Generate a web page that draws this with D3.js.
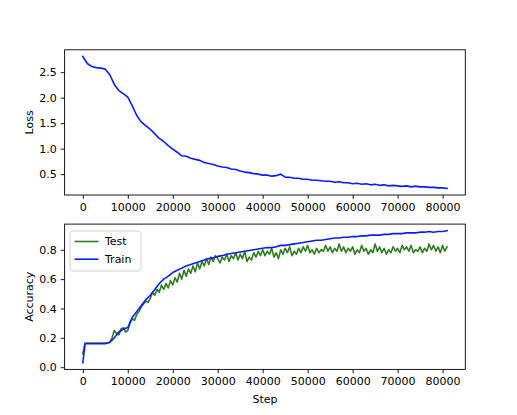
<!DOCTYPE html>
<html>
<head>
<meta charset="utf-8">
<script src="https://cdn.jsdelivr.net/npm/d3@7"></script>
<style>
  body { margin: 0; background: #fff; }
  svg { font-family: "DejaVu Sans", sans-serif; }
</style>
</head>
<body>
<div id="chart"></div>
<script>
// training steps for loss and train accuracy
const steps = [0, 500, 1000, 2000, 3000, 4000, 5000, 6000, 7000, 8000, 9000,
  10000, 11000, 12000, 13000, 14000, 15000, 16000, 17000, 18000, 19000,
  20000, 21000, 22000, 23000, 24000, 25000, 26000, 27000, 28000, 29000,
  30000, 31000, 32000, 33000, 34000, 35000, 36000, 37000, 38000, 39000,
  40000, 41000, 42000, 43000, 44000, 45000, 46000, 47000, 48000, 49000,
  50000, 51000, 52000, 53000, 54000, 55000, 56000, 57000, 58000, 59000,
  60000, 61000, 62000, 63000, 64000, 65000, 66000, 67000, 68000, 69000,
  70000, 71000, 72000, 73000, 74000, 75000, 76000, 77000, 78000, 79000,
  80000, 81000];

const loss = [2.81, 2.74, 2.67, 2.61, 2.59, 2.58, 2.56, 2.45, 2.26, 2.14, 2.08,
  2.01, 1.84, 1.65, 1.52, 1.45, 1.38, 1.29, 1.20, 1.14, 1.06,
  0.99, 0.93, 0.86, 0.85, 0.81, 0.79, 0.77, 0.73, 0.71, 0.69,
  0.66, 0.64, 0.63, 0.60, 0.59, 0.56, 0.54, 0.53, 0.51, 0.50,
  0.48, 0.48, 0.46, 0.47, 0.50, 0.44, 0.44, 0.42, 0.42, 0.40,
  0.40, 0.38, 0.38, 0.37, 0.36, 0.36, 0.34, 0.35, 0.33, 0.33,
  0.31, 0.32, 0.30, 0.31, 0.29, 0.30, 0.28, 0.29, 0.27, 0.28,
  0.27, 0.26, 0.27, 0.25, 0.265, 0.25, 0.25, 0.24, 0.24, 0.23,
  0.23, 0.22];

const trainAcc = [0.03, 0.16, 0.16, 0.16, 0.16, 0.16, 0.16, 0.17, 0.20, 0.24, 0.26,
  0.27, 0.34, 0.38, 0.42, 0.46, 0.49, 0.53, 0.57, 0.60, 0.62,
  0.645, 0.66, 0.675, 0.69, 0.70, 0.71, 0.72, 0.73, 0.74, 0.745,
  0.755, 0.76, 0.77, 0.775, 0.78, 0.785, 0.79, 0.795, 0.80, 0.805,
  0.81, 0.815, 0.815, 0.82, 0.83, 0.83, 0.835, 0.84, 0.845, 0.85,
  0.855, 0.86, 0.865, 0.865, 0.87, 0.875, 0.88, 0.88, 0.885, 0.885,
  0.89, 0.89, 0.895, 0.895, 0.90, 0.90, 0.90, 0.905, 0.905, 0.91,
  0.91, 0.91, 0.915, 0.915, 0.915, 0.92, 0.92, 0.925, 0.92, 0.925,
  0.925, 0.93];

// test accuracy is evaluated every 500 steps
const testSteps = [0, 500, 1000, 1500, 2000, 2500, 3000, 3500, 4000, 4500,
  5000, 5500, 6000, 6500, 7000, 7500, 8000, 8500, 9000, 9500,
  10000, 10500, 11000, 11500, 12000, 12500, 13000, 13500, 14000, 14500,
  15000, 15500, 16000, 16500, 17000, 17500, 18000, 18500, 19000, 19500,
  20000, 20500, 21000, 21500, 22000, 22500, 23000, 23500, 24000, 24500,
  25000, 25500, 26000, 26500, 27000, 27500, 28000, 28500, 29000, 29500,
  30000, 30500, 31000, 31500, 32000, 32500, 33000, 33500, 34000, 34500,
  35000, 35500, 36000, 36500, 37000, 37500, 38000, 38500, 39000, 39500,
  40000, 40500, 41000, 41500, 42000, 42500, 43000, 43500, 44000, 44500,
  45000, 45500, 46000, 46500, 47000, 47500, 48000, 48500, 49000, 49500,
  50000, 50500, 51000, 51500, 52000, 52500, 53000, 53500, 54000, 54500,
  55000, 55500, 56000, 56500, 57000, 57500, 58000, 58500, 59000, 59500,
  60000, 60500, 61000, 61500, 62000, 62500, 63000, 63500, 64000, 64500,
  65000, 65500, 66000, 66500, 67000, 67500, 68000, 68500, 69000, 69500,
  70000, 70500, 71000, 71500, 72000, 72500, 73000, 73500, 74000, 74500,
  75000, 75500, 76000, 76500, 77000, 77500, 78000, 78500, 79000, 79500,
  80000, 80500, 81000];

const testAcc = [0.09, 0.165, 0.165, 0.165, 0.165, 0.165, 0.165, 0.165, 0.165, 0.165,
  0.165, 0.165, 0.17, 0.20, 0.25, 0.23, 0.22, 0.26, 0.27, 0.24,
  0.25, 0.30, 0.33, 0.32, 0.36, 0.38, 0.41, 0.43, 0.45, 0.44,
  0.47, 0.51, 0.49, 0.53, 0.51, 0.56, 0.53, 0.57, 0.54, 0.59,
  0.56, 0.61, 0.58, 0.64, 0.60, 0.66, 0.62, 0.67, 0.64, 0.69,
  0.65, 0.71, 0.67, 0.72, 0.69, 0.74, 0.70, 0.75, 0.72, 0.76,
  0.74, 0.71, 0.75, 0.73, 0.77, 0.72, 0.76, 0.74, 0.78, 0.73,
  0.77, 0.74, 0.79, 0.72, 0.75, 0.73, 0.78, 0.75, 0.79, 0.76,
  0.80, 0.76, 0.79, 0.77, 0.81, 0.75, 0.78, 0.74, 0.80, 0.77,
  0.81, 0.78, 0.82, 0.76, 0.79, 0.77, 0.81, 0.78, 0.82, 0.79,
  0.83, 0.78, 0.80, 0.77, 0.81, 0.78, 0.80, 0.79, 0.83, 0.79,
  0.82, 0.78, 0.81, 0.79, 0.84, 0.79, 0.82, 0.78, 0.81, 0.79,
  0.82, 0.77, 0.80, 0.78, 0.83, 0.79, 0.81, 0.77, 0.80, 0.78,
  0.84, 0.79, 0.82, 0.78, 0.81, 0.77, 0.80, 0.78, 0.82, 0.79,
  0.81, 0.78, 0.83, 0.80, 0.82, 0.79, 0.83, 0.78, 0.80, 0.79,
  0.82, 0.78, 0.81, 0.79, 0.84, 0.80, 0.83, 0.79, 0.82, 0.78,
  0.83, 0.79, 0.82];

const xTicks = [0, 10000, 20000, 30000, 40000, 50000, 60000, 70000, 80000];
const lossTicks = [0.5, 1.0, 1.5, 2.0, 2.5];
const accTicks = [0.0, 0.2, 0.4, 0.6, 0.8];

var W = 517, H = 415;
var left = 64.6, right = 465.3;
var top1 = 49.8, bot1 = 195.0, top2 = 224.1, bot2 = 369.4;
var tick = 3.9, pad = 3.9;

var svg = d3.select("#chart").append("svg")
  .attr("width", W).attr("height", H);

// matplotlib style 5% margins
function padded(lo, hi) {
  var m = (hi - lo) * 0.05;
  return [lo - m, hi + m];
}

var x = d3.scaleLinear()
  .domain(padded(d3.min(steps), d3.max(steps)))
  .range([left, right]);

var yLoss = d3.scaleLinear()
  .domain(padded(d3.min(loss), d3.max(loss)))
  .range([bot1, top1]);

var allAcc = trainAcc.concat(testAcc);
var yAcc = d3.scaleLinear()
  .domain(padded(d3.min(allAcc), d3.max(allAcc)))
  .range([bot2, top2]);

function styleAxis(g) {
  g.select(".domain").remove();
  g.selectAll("line").attr("stroke", "#000").attr("stroke-width", 0.9);
  g.selectAll("text").attr("font-size", "11px").attr("fill", "#000")
    .attr("font-family", "DejaVu Sans, sans-serif");
}

function panel(y, yt, yTop, yBot, label, series) {
  svg.append("g")
    .attr("transform", "translate(0," + yBot + ")")
    .call(d3.axisBottom(x).tickValues(xTicks).tickFormat(d3.format("d"))
      .tickSizeInner(tick).tickSizeOuter(0).tickPadding(pad))
    .call(styleAxis);

  svg.append("g")
    .attr("transform", "translate(" + left + ",0)")
    .call(d3.axisLeft(y).tickValues(yt).tickFormat(d3.format(".1f"))
      .tickSizeInner(tick).tickSizeOuter(0).tickPadding(pad))
    .call(styleAxis);

  var clip = "clip" + label;
  svg.append("clipPath").attr("id", clip)
    .append("rect").attr("x", left).attr("y", yTop)
    .attr("width", right - left).attr("height", yBot - yTop);

  series.forEach(function(s) {
    var line = d3.line()
      .x(function(d, i) { return x(s.steps[i]); })
      .y(function(d) { return y(d); });
    svg.append("path")
      .datum(s.values)
      .attr("clip-path", "url(#" + clip + ")")
      .attr("fill", "none")
      .attr("stroke", s.color)
      .attr("stroke-width", 1.6)
      .attr("stroke-linejoin", "round")
      .attr("stroke-linecap", "square")
      .attr("d", line);
  });

  svg.append("rect")
    .attr("x", left).attr("y", yTop)
    .attr("width", right - left).attr("height", yBot - yTop)
    .attr("fill", "none").attr("stroke", "#000").attr("stroke-width", 0.9);

  svg.append("text")
    .attr("transform", "translate(33," + (yTop + yBot) / 2 + ") rotate(-90)")
    .attr("text-anchor", "middle")
    .attr("font-size", "11px")
    .text(label);
}

panel(yLoss, lossTicks, top1, bot1, "Loss", [
  {name: "Loss", steps: steps, values: loss, color: "#0a1ef5"}
]);

var accSeries = [
  {name: "Test", steps: testSteps, values: testAcc, color: "#2e7d1f"},
  {name: "Train", steps: steps, values: trainAcc, color: "#0a1ef5"}
];
panel(yAcc, accTicks, top2, bot2, "Accuracy", accSeries);

svg.append("text")
  .attr("x", (left + right) / 2).attr("y", 403)
  .attr("text-anchor", "middle")
  .attr("font-size", "11px")
  .text("Step");

// legend
var lg = svg.append("g").attr("transform", "translate(70,231)");
lg.append("rect")
  .attr("width", 71).attr("height", 40).attr("rx", 2.5)
  .attr("fill", "#fff").attr("fill-opacity", 0.8)
  .attr("stroke", "#ccc").attr("stroke-width", 0.9);
accSeries.forEach(function(s, i) {
  var yy = 10.5 + i * 17.7;
  lg.append("line")
    .attr("x1", 4.5).attr("x2", 28.5).attr("y1", yy).attr("y2", yy)
    .attr("stroke", s.color).attr("stroke-width", 1.6);
  lg.append("text")
    .attr("x", 35).attr("y", yy).attr("dy", "0.35em")
    .attr("font-size", "11px")
    .text(s.name);
});
</script>
</body>
</html>
